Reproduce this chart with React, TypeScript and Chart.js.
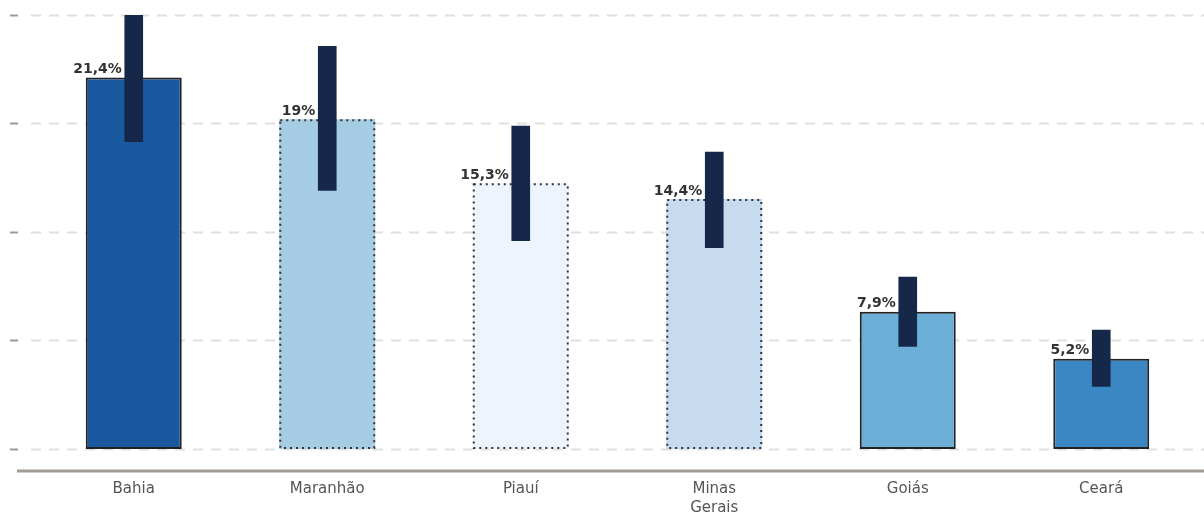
import React, { useEffect, useRef } from "react";
import { Chart, registerables } from "chart.js";

Chart.register(...registerables);

const categories: string[][] = [["Bahia"], ["Maranhão"], ["Piauí"], ["Minas", "Gerais"], ["Goiás"], ["Ceará"]];
const values = [21.4, 19, 15.3, 14.4, 7.9, 5.2];
const errLow = [17.7, 14.9, 12.0, 11.6, 5.9, 3.6];
const errHigh = [25.2, 23.2, 18.6, 17.1, 9.9, 6.85];
const yTicks = [0, 6.25, 12.5, 18.75, 25];

const barColors = ["#1a58a0", "#a5cce3", "#eef4fd", "#c6dbef", "#6baed6", "#3b87c3"];
const dottedBorder = [false, true, true, true, false, false];
const errColor = "#15284a";

const fmt = (v: number) => String(v).replace(".", ",") + "%";

const decorPlugin = {
  id: "decor",
  beforeDatasetsDraw(chart: any) {
    const ctx = chart.ctx;
    const y = chart.scales.y;
    const w = chart.width;
    ctx.save();
    yTicks.forEach((t) => {
      const py = Math.round(y.getPixelForValue(t)) + 0.5;
      ctx.setLineDash([10, 8]);
      ctx.strokeStyle = "#e0e0e0";
      ctx.lineWidth = 2;
      ctx.beginPath();
      ctx.moveTo(31, py);
      ctx.lineTo(w, py);
      ctx.stroke();
      ctx.setLineDash([]);
      ctx.strokeStyle = "#9a9a9a";
      ctx.beginPath();
      ctx.moveTo(10, py);
      ctx.lineTo(18, py);
      ctx.stroke();
    });
    const by = chart.chartArea.bottom;
    ctx.strokeStyle = "#a29d94";
    ctx.lineWidth = 3;
    ctx.beginPath();
    ctx.moveTo(17, by);
    ctx.lineTo(w, by);
    ctx.stroke();
    // category labels
    const xs = chart.scales.x;
    ctx.font = "15px 'DejaVu Sans'";
    ctx.fillStyle = "#555";
    ctx.textAlign = "center";
    ctx.textBaseline = "middle";
    categories.forEach((lines, i) => {
      const px = xs.getPixelForValue(i);
      lines.forEach((s, j) => {
        ctx.fillText(s, px, by + 18 + j * 19);
      });
    });
    ctx.restore();
  },
  afterDatasetDraw(chart: any, args: any) {
    if (args.meta.label !== "values") return;
    const ctx = chart.ctx;
    ctx.save();
    args.meta.data.forEach((el: any, i: number) => {
      if (!dottedBorder[i]) return;
      const left = el.x - el.width / 2 + 1;
      const right = el.x + el.width / 2 - 1;
      const top = el.y + 1;
      const bottom = el.base - 1;
      ctx.setLineDash([2, 4]);
      ctx.lineWidth = 2;
      ctx.strokeStyle = "#333";
      ctx.strokeRect(left, top, right - left, bottom - top);
    });
    ctx.restore();
  },
  afterDatasetsDraw(chart: any) {
    const ctx = chart.ctx;
    const meta = chart.getDatasetMeta(1);
    ctx.save();
    ctx.font = "bold 14px 'DejaVu Sans'";
    ctx.fillStyle = "#333";
    ctx.textAlign = "right";
    ctx.textBaseline = "bottom";
    meta.data.forEach((el: any, i: number) => {
      ctx.fillText(fmt(values[i]), el.x - 12, el.y - 1);
    });
    ctx.restore();
  },
};

export default function App() {
  const ref = useRef<HTMLCanvasElement>(null);
  useEffect(() => {
    if (!ref.current) return;
    const chart = new Chart(ref.current, {
      type: "bar",
      data: {
        labels: categories.map((c) => c.join(" ")),
        datasets: [
          {
            label: "err",
            data: errLow.map((l, i) => [l, errHigh[i]]),
            backgroundColor: errColor,
            borderWidth: 0,
            barThickness: 18,
            grouped: false,
            order: 0,
          } as any,
          {
            label: "values",
            data: values,
            backgroundColor: barColors,
            borderColor: "#222",
            borderWidth: dottedBorder.map((d) => (d ? 0 : 2)),
            borderSkipped: false,
            categoryPercentage: 1,
            barPercentage: 0.496,
            grouped: false,
            order: 1,
          } as any,
        ],
      },
      options: {
        animation: false,
        responsive: true,
        maintainAspectRatio: false,
        layout: { padding: { left: 37, right: 6, top: 15, bottom: 42 } },
        plugins: { legend: { display: false }, tooltip: { enabled: false } },
        scales: {
          x: {
            display: false,
          },
          y: {
            display: false,
            min: -1.27,
            max: 25,
          },
        },
      },
      plugins: [decorPlugin],
    });
    return () => chart.destroy();
  }, []);
  return (
    <div style={{ position: "fixed", left: 0, top: 0, width: 1204, height: 513 }}>
      <canvas ref={ref} />
    </div>
  );
}
